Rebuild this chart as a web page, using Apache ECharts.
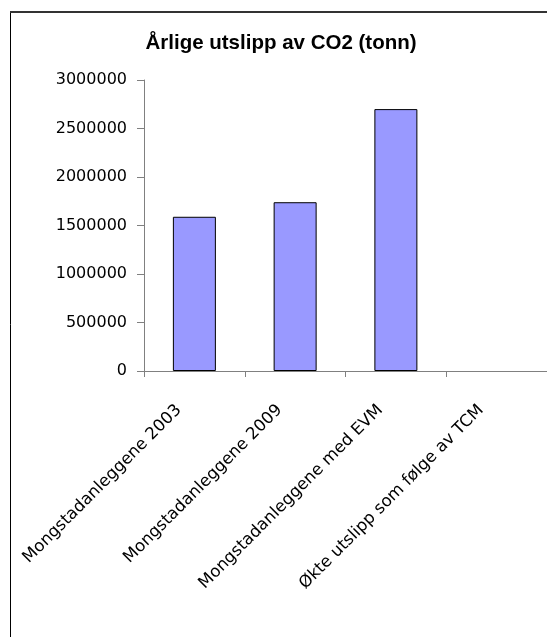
<!DOCTYPE html>
<html>
<head>
<meta charset="utf-8">
<script src="https://cdn.jsdelivr.net/npm/echarts@6/dist/echarts.min.js"></script>
<style>
html,body{margin:0;padding:0;background:#fff;}
#c{width:547px;height:637px;}
</style>
</head>
<body>
<div id="c"></div>
<script>
const titleText = "Årlige utslipp av CO2 (tonn)";
const categories = ["Mongstadanleggene 2003", "Mongstadanleggene 2009", "Mongstadanleggene med EVM", "Økte utslipp som følge av TCM"];
const values = [1590000, 1740000, 2700000, null];
const yMin = 0, yMax = 3000000, yStep = 500000;

const chart = echarts.init(document.getElementById('c'), null, {renderer: 'canvas'});
chart.setOption({
  backgroundColor: '#fff',
  animation: false,
  title: {
    text: titleText,
    left: 276, textAlign: 'center', top: 28,
    textStyle: {fontFamily: 'Liberation Sans, Arial, sans-serif', fontWeight: 'bold', fontSize: 20.5, color: '#000'}
  },
  graphic: [
    {type: 'line', shape: {x1: 10.5, y1: 11, x2: 10.5, y2: 700}, style: {stroke: '#000', lineWidth: 1}},
    {type: 'line', shape: {x1: 10, y1: 12, x2: 600, y2: 12}, style: {stroke: '#333', lineWidth: 2}}
  ],
  grid: {left: 144, top: 80, right: -1, bottom: 266, containLabel: false},
  xAxis: {
    type: 'category', data: categories, boundaryGap: true,
    axisLine: {lineStyle: {color: '#808080', width: 1}},
    axisTick: {show: true, alignWithLabel: false, length: 6, lineStyle: {color: '#808080'}},
    axisLabel: {
      rotate: 45, interval: 0, margin: 21, color: '#000',
      padding: [0, 22, 0, 0],
      fontFamily: 'DejaVu Sans, sans-serif', fontSize: 16.6
    }
  },
  yAxis: {
    type: 'value', min: yMin, max: yMax, interval: yStep,
    axisLine: {show: true, lineStyle: {color: '#808080', width: 1}},
    axisTick: {show: true, length: 7, lineStyle: {color: '#808080'}},
    splitLine: {show: false},
    axisLabel: {margin: 17, color: '#000', fontFamily: 'DejaVu Sans, sans-serif', fontSize: 16,
      formatter: function (v) { return String(v); }}
  },
  series: [{
    type: 'bar', data: values, barWidth: 43,
    itemStyle: {color: '#9999FF', borderColor: '#000', borderWidth: 1}
  }]
});
</script>
</body>
</html>
